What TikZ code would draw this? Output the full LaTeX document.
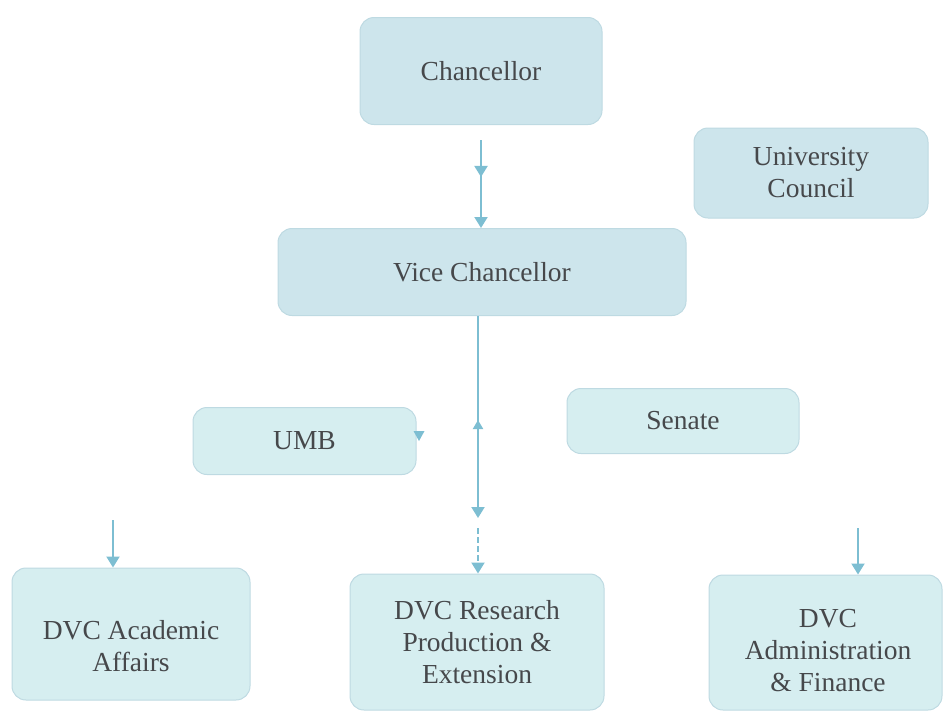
\documentclass[tikz,border=0pt]{standalone}
\usepackage{fontspec}
\setmainfont{Liberation Serif}
\usetikzlibrary{arrows.meta,decorations.markings}
\definecolor{boxtop}{RGB}{205,229,236}
\definecolor{boxlow}{RGB}{214,238,240}
\definecolor{boxedge}{RGB}{190,218,226}
\definecolor{arr}{RGB}{125,190,210}
\definecolor{txt}{RGB}{70,72,75}
\tikzset{
  orgbox/.style={draw=boxedge, line width=1pt, fill=#1, rounded corners=14pt, inner sep=0pt,
    text=txt, font=\fontsize{27.5}{32}\selectfont, align=center},
  orgtext/.style={text=txt, font=\fontsize{27.5}{32}\selectfont, align=center, inner sep=0pt},
  conn/.style={draw=arr, line width=2pt, -{Triangle[width=13pt,length=11pt]}},
  midarrow/.style={postaction={decorate}, decoration={markings,
    mark=at position #1 with {\arrow{Triangle[width=13pt,length=11pt]}}}},
  midback/.style={postaction={decorate}, decoration={markings,
    mark=at position #1 with {\arrowreversed[xshift=3pt]{Triangle[width=10pt,length=9pt]}}}}
}
\begin{document}
\begin{tikzpicture}[x=1pt,y=-1pt]
\useasboundingbox (0,0) rectangle (944,716);
% boxes
\node[orgbox=boxtop, minimum width=242pt, minimum height=107pt] (chan) at (481,71) {Chancellor};
\node[orgbox=boxtop, minimum width=234pt, minimum height=90pt] (council) at (811,173) {University\\Council};
\node[orgbox=boxtop, minimum width=408pt, minimum height=87pt] (vc) at (482,272) {Vice Chancellor};
\node[orgbox=boxlow, minimum width=223pt, minimum height=67pt] (umb) at (304.5,441) {UMB};
\node[orgbox=boxlow, minimum width=232pt, minimum height=65pt] (senate) at (683,421) {Senate};
\node[orgbox=boxlow, minimum width=238pt, minimum height=132pt] (dvca) at (131,634) {};
\node[orgtext] (dvcatext) at (131,646) {DVC Academic\\Affairs};
\node[orgbox=boxlow, minimum width=254pt, minimum height=136pt] (dvcr) at (477,642) {DVC Research\\Production \&\\Extension};
\node[orgbox=boxlow, minimum width=233pt, minimum height=135pt] (dvcf) at (825.5,642.5) {};
\node[orgtext] (dvcftext) at (828,651) {DVC\\Administration\\\& Finance};
% connector anchors
\coordinate (c1) at (481,140);
\coordinate (c2) at (478,518);
\coordinate (c3) at (478,528);
\coordinate (a1) at (113,520);
\coordinate (f1) at (858,528);
% connectors
\draw[conn, midarrow=0.42] (c1) -- (c1 |- vc.north);
\draw[conn, midback=0.5] (c2 |- vc.south) -- (c2);
\draw[conn, dashed, dash pattern=on 6pt off 3pt] (c3) -- (c3 |- dvcr.north);
\draw[conn] (a1) -- (a1 |- dvca.north);
\draw[conn] (f1) -- (f1 |- dvcf.north);
% small marker on UMB's right edge
\fill[arr] ([shift={(-3,-10)}]umb.east) -- ++(11,0) -- ++(-5.5,10) -- cycle;
\end{tikzpicture}
\end{document}
